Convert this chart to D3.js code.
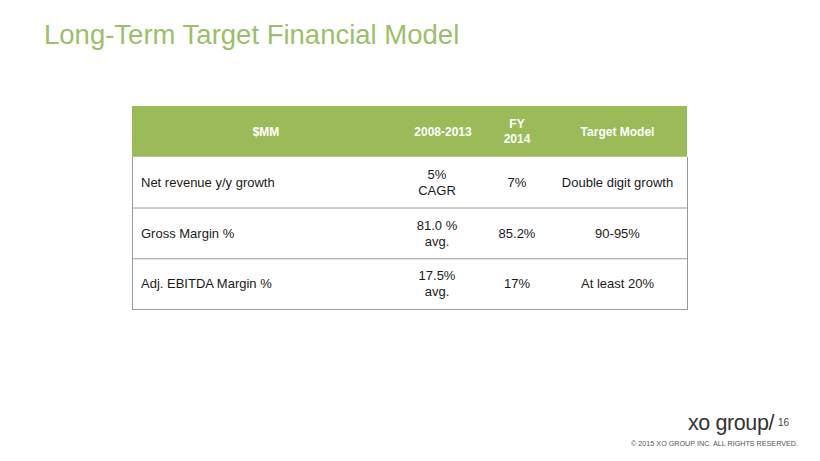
<!DOCTYPE html>
<html>
<head>
<meta charset="utf-8">
<script src="https://cdn.jsdelivr.net/npm/d3@7"></script>
<style>
  html, body { margin: 0; padding: 0; background: #fff; }
  svg { display: block; font-family: "Liberation Sans", Arial, sans-serif; }
</style>
</head>
<body>
<script>
"use strict";

// table content
var headers = ["$MM", "2008-2013", "FY\n2014", "Target Model"];
var rowLabels = ["Net revenue y/y growth", "Gross Margin %", "Adj. EBITDA Margin %"];
var histValues = ["5%\nCAGR", "81.0 %\navg.", "17.5%\navg."];
var fy2014Values = ["7%", "85.2%", "17%"];
var targetValues = ["Double digit growth", "90-95%", "At least 20%"];

var w = 820, h = 461;
var green = "#9bbb59";

var svg = d3.select("body").append("svg").attr("width", w).attr("height", h);

//Title
svg.append("text").attr("x", 44).attr("y", 44).attr("fill", "#9bbf6a")
  .style("font-size", "27.5px").text("Long-Term Target Financial Model");

//Row scale and column edges
var yScale = d3.scaleBand().domain(["header"].concat(rowLabels)).range([106, 309]);
var colEdges = [132, 400, 486, 548, 687];
function colLeft(i) { return colEdges[i]; }
function colMid(i) { return (colEdges[i] + colEdges[i + 1]) / 2; }

//Header band
svg.append("rect").attr("x", colEdges[0]).attr("y", yScale("header"))
  .attr("width", colEdges[4] - colEdges[0]).attr("height", yScale.bandwidth())
  .attr("fill", green);

//Multi-line cell text helper
function cellText(g, str, x, yMid, anchor, size, color, weight) {
  var lines = str.split("\n");
  var lh = size + 3;
  var t = g.append("text").attr("text-anchor", anchor).attr("fill", color)
    .style("font-size", size + "px").style("font-weight", weight);
  lines.forEach(function (l, k) {
    t.append("tspan").attr("x", x)
      .attr("y", yMid + (k - (lines.length - 1) / 2) * lh + size * 0.36)
      .text(l);
  });
}

var yHeadMid = yScale("header") + yScale.bandwidth() / 2;
headers.forEach(function (hd, i) {
  cellText(svg, hd, colMid(i), yHeadMid, "middle", 12, "#fff", "bold");
});

//Body rows
var rows = rowLabels.map(function (lab, i) {
  return { label: lab, vals: [histValues[i], fy2014Values[i], targetValues[i]] };
});

var rowG = svg.selectAll("g.row").data(rows).enter().append("g").attr("class", "row");

rowG.each(function (d) {
  var g = d3.select(this);
  var yMid = yScale(d.label) + yScale.bandwidth() / 2;
  cellText(g, d.label, colLeft(0) + 9, yMid, "start", 13, "#1a1a1a", "normal");
  d.vals.forEach(function (v, j) {
    cellText(g, v, colMid(j + 1) - (j === 0 ? 6 : 0), yMid, "middle", 13, "#1a1a1a", "normal");
  });
});

//Grid lines
var lineColor = "#9a9a9a";
rowLabels.forEach(function (lab) {
  svg.append("line").attr("x1", colEdges[0]).attr("x2", colEdges[4])
    .attr("y1", yScale(lab) + yScale.bandwidth() + 0.5)
    .attr("y2", yScale(lab) + yScale.bandwidth() + 0.5)
    .attr("stroke", lineColor).attr("stroke-width", 1);
});
[colEdges[0], colEdges[4]].forEach(function (x) {
  svg.append("line").attr("x1", x + 0.5).attr("x2", x + 0.5)
    .attr("y1", yScale(rowLabels[0])).attr("y2", yScale.range()[1] + 1)
    .attr("stroke", lineColor).attr("stroke-width", 1);
});

//Footer
svg.append("text").attr("x", 688).attr("y", 430).attr("fill", "#333")
  .style("font-size", "21.5px").style("letter-spacing", "-0.4px")
  .text("xo group/");
svg.append("text").attr("x", 778).attr("y", 426).attr("fill", "#444")
  .style("font-size", "10px").text("16");
svg.append("text").attr("x", 798).attr("y", 446).attr("text-anchor", "end").attr("fill", "#555")
  .style("font-size", "7.2px").text("\u00a9 2015 XO GROUP INC. ALL RIGHTS RESERVED.");
</script>
</body>
</html>
